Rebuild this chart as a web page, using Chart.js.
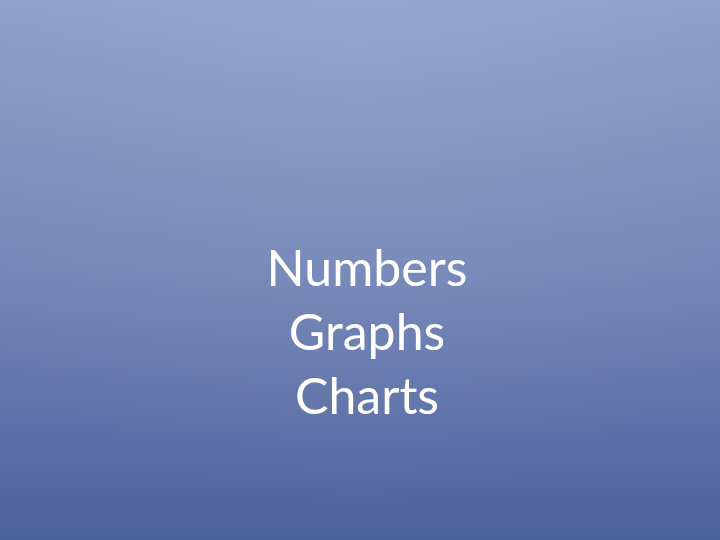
<!DOCTYPE html>
<html lang="en">
<head>
  <meta charset="UTF-8">
  <title>Numbers Graphs Charts</title>
  <script src="https://cdn.jsdelivr.net/npm/chart.js"></script>
  <style>
    html, body { margin: 0; padding: 0; background: #6f83b6; }
    #wrap { width: 720px; height: 540px; }
  </style>
</head>
<body>
  <div id="wrap"><canvas id="slide"></canvas></div>

  <script>
    // slide text lines
    const titleLines = ['Numbers', 'Graphs', 'Charts'];
    // empty chart, only the title is shown
    const categories = [];
    const values = [];

    // slide background: vertical gradient, with a soft light patch at the top centre
    const slideBackground = {
      id: 'slideBackground',
      beforeDraw(chart) {
        const ctx = chart.ctx;
        const w = chart.width, h = chart.height;
        ctx.save();
        const lin = ctx.createLinearGradient(0, 0, 0, h);
        lin.addColorStop(0, '#8d9ec9');
        lin.addColorStop(0.5, '#7386b7');
        lin.addColorStop(1, '#4b619c');
        ctx.fillStyle = lin;
        ctx.fillRect(0, 0, w, h);
        const rad = ctx.createRadialGradient(w / 2, 0, 0, w / 2, 0, 520);
        rad.addColorStop(0, 'rgba(255,255,255,0.09)');
        rad.addColorStop(1, 'rgba(255,255,255,0)');
        ctx.fillStyle = rad;
        ctx.fillRect(0, 0, w, h);
        ctx.restore();
      }
    };

    new Chart(document.getElementById('slide'), {
      type: 'bar',
      data: {
        labels: categories,
        datasets: [{ data: values }]
      },
      plugins: [slideBackground],
      options: {
        responsive: true,
        maintainAspectRatio: false,
        devicePixelRatio: 1,
        animation: false,
        layout: { padding: { left: 14 } },
        scales: {
          x: { display: false },
          y: { display: false }
        },
        plugins: {
          legend: { display: false },
          tooltip: { enabled: false },
          title: {
            display: true,
            text: titleLines,
            color: '#ffffff',
            font: { family: 'Lato', size: 50, weight: 'normal', lineHeight: 1.28 },
            padding: { top: 238, bottom: 0 }
          }
        }
      }
    });
  </script>
</body>
</html>
